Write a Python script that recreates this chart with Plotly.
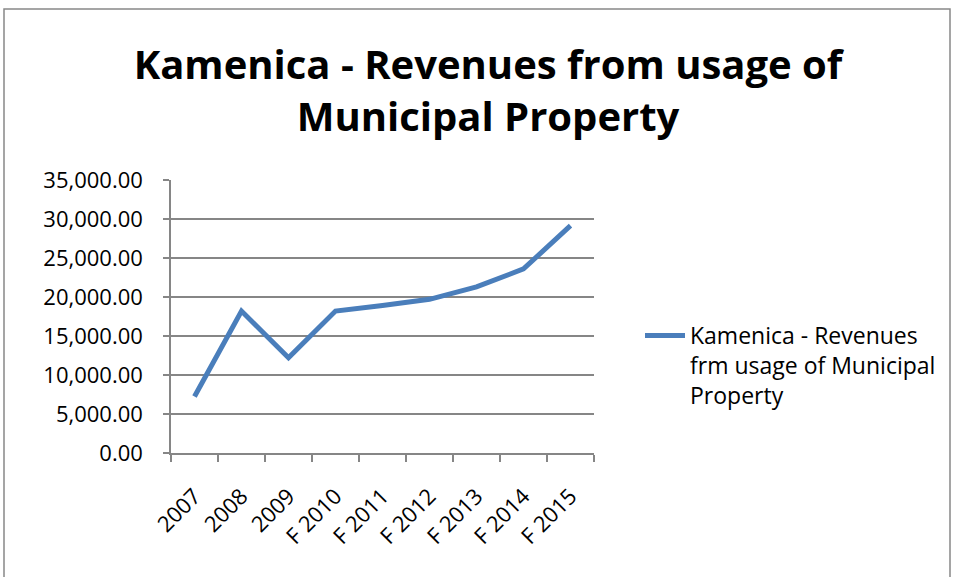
import plotly.graph_objects as go

categories = ["2007", "2008", "2009", "F 2010", "F 2011", "F 2012", "F 2013", "F 2014", "F 2015"]
revenues = [7250, 18200, 12200, 18200, 18900, 19700, 21300, 23600, 29150]
series_name = "Kamenica - Revenues<br>frm usage of Municipal<br>Property"
title_text = "Kamenica - Revenues from usage of<br>Municipal Property"

W, H = 954, 577
# plot area in page pixels: x 171..594, y 180..453
L, T = 171, 180
R, B = W - 594, H - 453
pw, ph = W - L - R, H - T - B

FONT = "Open Sans, Lato, sans-serif"
GRID = "#868686"

fig = go.Figure()
fig.add_trace(go.Scatter(
    x=categories, y=revenues, mode="lines", name=series_name,
    line=dict(color="#4A7EBB", width=5),
))

def px_x(px):  # page px -> paper
    return (px - L) / pw

def px_y(py):
    return (H - B - py) / ph

fig.update_layout(
    width=W, height=H,
    margin=dict(l=L, r=R, t=T, b=B, autoexpand=False),
    paper_bgcolor="white", plot_bgcolor="white",
    title=dict(text=title_text, x=488 / W, xanchor="center", xref="container",
               y=1 - 79 / H, yanchor="top", yref="container",
               font=dict(family=FONT, size=40, color="black", weight="bold")),
    font=dict(family=FONT, size=22, color="black"),
    xaxis=dict(type="category", range=[-0.5, 8.5], tickson="boundaries",
               ticks="outside", ticklen=7, tickcolor=GRID, tickwidth=1.5,
               ticklabelstandoff=20,
               showline=True, linecolor=GRID, linewidth=1.5, showgrid=False,
               tickangle=-45, tickfont=dict(size=22), zeroline=False),
    yaxis=dict(range=[0, 35000], dtick=5000, tickformat=",.2f",
               ticks="outside", ticklen=6, tickcolor=GRID, tickwidth=1.5,
               ticklabelstandoff=16,
               showline=True, linecolor=GRID, linewidth=1.5,
               showgrid=True, gridcolor=GRID, gridwidth=1.5,
               zeroline=False, tickfont=dict(size=22)),
    showlegend=True,
    legend=dict(x=px_x(640), y=px_y(314), xanchor="left", yanchor="top",
                valign="top", font=dict(size=23), itemwidth=40,
                bgcolor="rgba(0,0,0,0)"),
    shapes=[dict(type="rect", xref="paper", yref="paper",
                 x0=px_x(4), x1=px_x(950), y0=px_y(620), y1=px_y(9),
                 line=dict(color="#888888", width=1.5), layer="below")],
)

fig.write_html("out.html", config={"displayModeBar": False},
               post_script="document.body.style.margin='0';")
